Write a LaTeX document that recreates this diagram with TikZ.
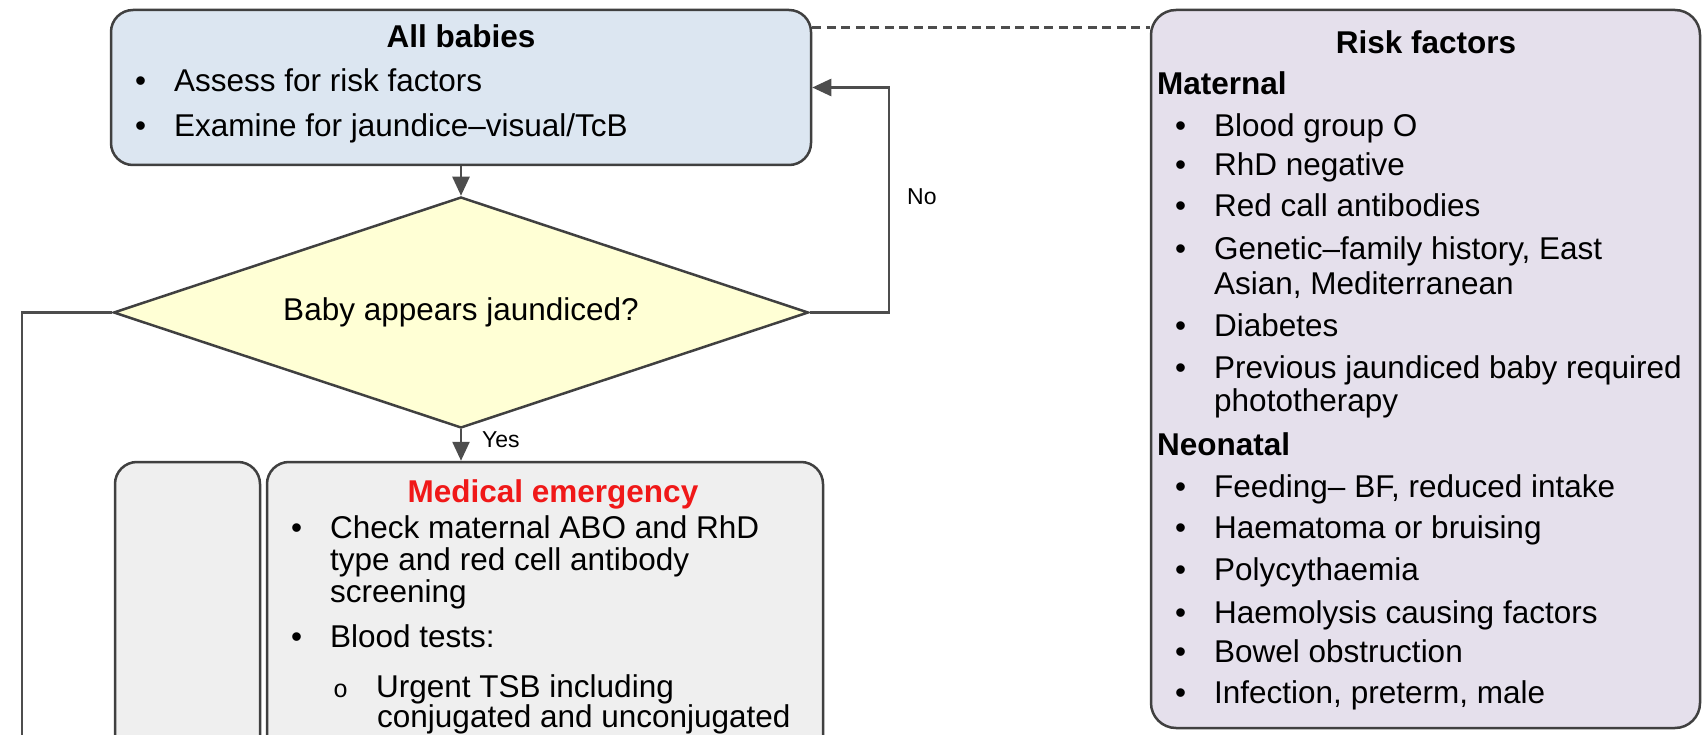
\documentclass[tikz,border=0pt]{standalone}
\usepackage{fontspec}
\setmainfont{Liberation Sans}
\newfontfamily\monofont{Liberation Mono}
\usetikzlibrary{shapes.geometric,arrows.meta}

\definecolor{babyblue}{HTML}{DCE6F1}
\definecolor{askyellow}{HTML}{FFFFD5}
\definecolor{riskmauve}{HTML}{E5E0EC}
\definecolor{emergrey}{HTML}{EFEFEF}
\definecolor{edgegrey}{HTML}{404040}
\definecolor{linegrey}{HTML}{4D4D4D}
\definecolor{alertred}{HTML}{F01818}

% list markers, each with the gap up to the text
\newcommand{\bul}{\makebox[39pt][l]{\textbullet}}
\newcommand{\subbul}{\makebox[43pt][l]{\fontsize{25}{25}\selectfont\monofont o}}

\begin{document}
\begin{tikzpicture}[x=1pt,y=-1pt,
	box/.style={draw=edgegrey,line width=2.5pt,rounded corners=22pt,inner sep=0pt},
	txt/.style={anchor=base west,inner sep=0pt,font=\fontsize{31.5}{35}\selectfont},
	subhead/.style={txt,font=\fontsize{31.5}{35}\selectfont\bfseries},
	head/.style={anchor=base,inner sep=0pt,font=\fontsize{31.5}{35}\selectfont\bfseries},
	lbl/.style={anchor=west,inner sep=0pt,font=\fontsize{23}{25}\selectfont},
	link/.style={draw=linegrey,line width=2.5pt},
	flow/.style={link,-{Triangle[length=19pt,width=17pt]}}]
	\path[use as bounding box, fill=white] (0,0) rectangle (1703,735);
	\clip (0,0) rectangle (1703,735);

	% boxes
	\node (babies) at (461,87.5)	[box, fill=babyblue, minimum width=700pt, minimum height=155pt]	{};
	\node (ask) at (461,312.5)	[diamond, aspect=3, draw=edgegrey, line width=2.5pt, fill=askyellow, inner sep=0pt,
		minimum width=695pt, minimum height=231pt, font=\fontsize{31.5}{35}\selectfont]	{Baby appears jaundiced?};
	\node (risk) at (1425.5,369)	[box, rounded corners=25pt, fill=riskmauve, minimum width=549pt, minimum height=718pt]	{};
	\node (sidebox) at (187.5,620)	[box, fill=emergrey, minimum width=145pt, minimum height=316pt]	{};
	\node (emerg) at (545,620)	[box, fill=emergrey, minimum width=556pt, minimum height=316pt]	{};
	\coordinate (offpage) at (22,780);

	% connectors
	\draw[flow] (babies.south) -- (ask.north);
	\draw[flow] (ask.south) -- (ask.south |- emerg.north);
	\draw[flow] (ask.east) -- ++(79,0) |- (babies.east);
	\draw[link] (ask.west) -| (offpage);
	\draw[link, dash pattern=on 9pt off 5.5pt] ([yshift=-19pt]babies.north east) -- ([yshift=-19pt]babies.north east -| risk.west);
	\node (yes) at (482,440)	[lbl]	{Yes};
	\node (no) at (907,197)	[lbl]	{No};

	% all babies
	\node (babiestitle) at (461,48)	[head]	{All babies};
	\node (babies1) at (135,92)	[txt]	{\bul Assess for risk factors};
	\node (babies2) at (135,137)	[txt]	{\bul Examine for jaundice--visual/TcB};

	% risk factors
	\node (risktitle) at (1426,54)	[head]	{Risk factors};
	\node (maternal) at (1157,95)	[subhead]	{Maternal};
	\node (mat1) at (1175,137)	[txt]	{\bul Blood group O};
	\node (mat2) at (1175,176)	[txt]	{\bul RhD negative};
	\node (mat3) at (1175,217)	[txt]	{\bul Red call antibodies};
	\node (mat4) at (1175,260)	[txt]	{\bul Genetic--family history, East};
	\node (mat4b) at (1214,295)	[txt]	{Asian, Mediterranean};
	\node (mat5) at (1175,337)	[txt]	{\bul Diabetes};
	\node (mat6) at (1175,378)	[txt]	{\bul Previous jaundiced baby required};
	\node (mat6b) at (1214,411)	[txt]	{phototherapy};
	\node (neonatal) at (1157,455)	[subhead]	{Neonatal};
	\node (neo1) at (1175,497)	[txt]	{\bul Feeding-- BF, reduced intake};
	\node (neo2) at (1175,538)	[txt]	{\bul Haematoma or bruising};
	\node (neo3) at (1175,580)	[txt]	{\bul Polycythaemia};
	\node (neo4) at (1175,623)	[txt]	{\bul Haemolysis causing factors};
	\node (neo5) at (1175,662)	[txt]	{\bul Bowel obstruction};
	\node (neo6) at (1175,703)	[txt]	{\bul Infection, preterm, male};

	% medical emergency
	\node (emergtitle) at (553,502)	[head, text=alertred]	{Medical emergency};
	\node (emerg1) at (291,538)	[txt]	{\bul Check maternal ABO and RhD};
	\node (emerg1b) at (330,570)	[txt]	{type and red cell antibody};
	\node (emerg1c) at (330,602)	[txt]	{screening};
	\node (emerg2) at (291,647)	[txt]	{\bul Blood tests:};
	\node (emerg2a) at (333,697)	[txt]	{\subbul Urgent TSB including};
	\node (emerg2b) at (377,727)	[txt]	{conjugated and unconjugated};
\end{tikzpicture}
\end{document}
